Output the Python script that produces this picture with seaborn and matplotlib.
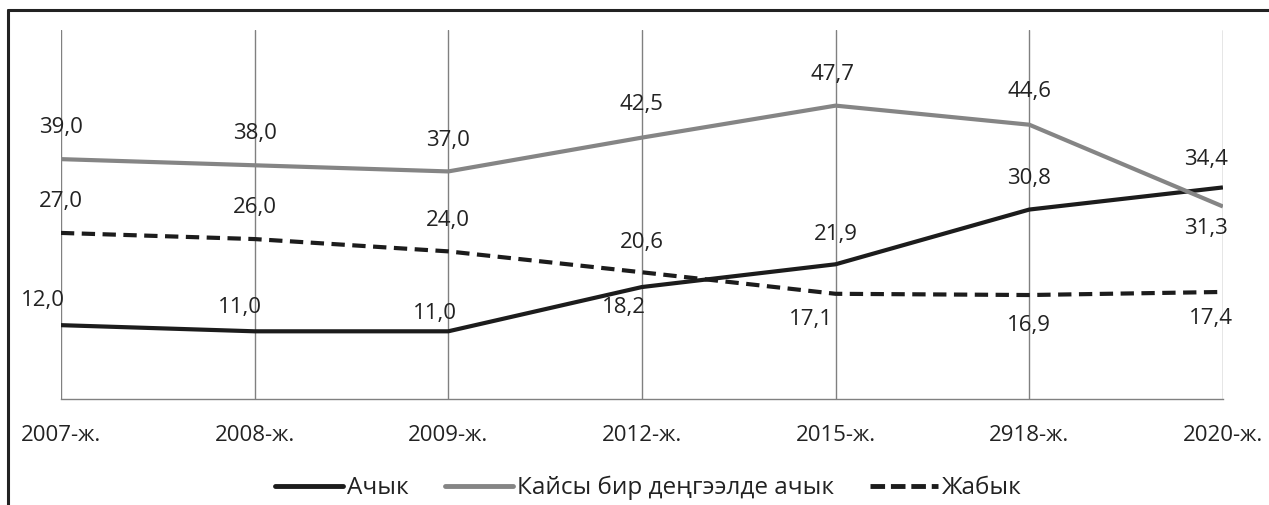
import matplotlib
matplotlib.use("Agg")
import matplotlib.pyplot as plt
from matplotlib.lines import Line2D
import seaborn as sns
import pandas as pd

years = ['2007-ж.', '2008-ж.', '2009-ж.', '2012-ж.', '2015-ж.', '2918-ж.', '2020-ж.']
open_vals = [12.0, 11.0, 11.0, 18.2, 21.9, 30.8, 34.4]
partly_vals = [39.0, 38.0, 37.0, 42.5, 47.7, 44.6, 31.3]
closed_vals = [27.0, 26.0, 24.0, 20.6, 17.1, 16.9, 17.4]
series_names = ['Ачык', 'Кайсы бир деңгээлде ачык', 'Жабык']

# label offsets in pixels (dx, dy) for each point
open_off = [(-18, 25), (-15, 24), (-13, 18), (-18, -20), (0, 30), (0, 31), (-17, 28)]
partly_off = [(0, 32), (0, 32), (0, 31), (0, 33), (-3, 31), (0, 33), (-17, -22)]
closed_off = [(0, 31), (0, 32), (0, 31), (0, 30), (-25, -26), (0, -30), (-12, -27)]

sns.set_theme(style="white")
plt.rcParams['font.family'] = ['Open Sans', 'DejaVu Sans']

df = pd.DataFrame({
    'year': years * 3,
    'value': open_vals + partly_vals + closed_vals,
    'series': [series_names[0]] * 7 + [series_names[1]] * 7 + [series_names[2]] * 7,
})

colors = {'Ачык': '#1c1c1c', 'Кайсы бир деңгээлде ачык': '#858585', 'Жабык': '#1c1c1c'}
dashes = {'Ачык': '', 'Кайсы бир деңгээлде ачык': '', 'Жабык': (3.2, 1.8)}

fig = plt.figure(figsize=(12.69, 5.05), dpi=100)
ax = fig.add_axes([0.048, 0.21, 0.9157, 0.7306])

sns.lineplot(data=df, x='year', y='value', hue='series', style='series',
             palette=colors, dashes=dashes, sort=False, linewidth=3.0,
             legend=False, ax=ax)
for ln in ax.get_lines():
    ln.set_solid_capstyle('butt')
    ln.set_dash_capstyle('butt')

ax.set_xlim(0, 6)
ax.set_ylim(0, 60)
ax.set_xlabel('')
ax.set_ylabel('')
ax.set_yticks([])
ax.set_xticks(range(7))
ax.set_xticklabels(years, fontsize=16, color='#222222')
ax.tick_params(axis='x', direction='out', length=4.5, width=1.0, color='#808080', pad=14)
ax.grid(axis='x', color='#808080', linewidth=1.0)
for s in ['top', 'left', 'right']:
    ax.spines[s].set_visible(False)
ax.spines['bottom'].set_color('#808080')
ax.spines['bottom'].set_linewidth(1.0)

for vals, offs in [(open_vals, open_off), (partly_vals, partly_off), (closed_vals, closed_off)]:
    for i, (v, (dx, dy)) in enumerate(zip(vals, offs)):
        ax.annotate(f"{v:.1f}".replace('.', ','), (i, v), xytext=(dx, dy),
                    textcoords='offset pixels', ha='center', va='center',
                    fontsize=16, color='#222222', annotation_clip=False)

handles = [Line2D([], [], color='#1c1c1c', lw=3.5),
           Line2D([], [], color='#858585', lw=3.5),
           Line2D([], [], color='#1c1c1c', lw=3.5, dashes=(3.0, 1.2))]
fig.legend(handles, series_names, loc='center', bbox_to_anchor=(0.511, 0.034),
           ncol=3, frameon=False, fontsize=17.5, handlelength=2.8,
           handletextpad=0.15, columnspacing=1.5, labelcolor='#222222')

# outer frame of the cropped figure
fig.add_artist(Line2D([8 / 1269, 1.0], [1 - 10 / 505, 1 - 10 / 505],
                      transform=fig.transFigure, color='#222222', lw=2.2))
fig.add_artist(Line2D([8 / 1269, 8 / 1269], [0, 1 - 10 / 505],
                      transform=fig.transFigure, color='#222222', lw=2.2))

fig.savefig('out.png', dpi=100, facecolor='white')
